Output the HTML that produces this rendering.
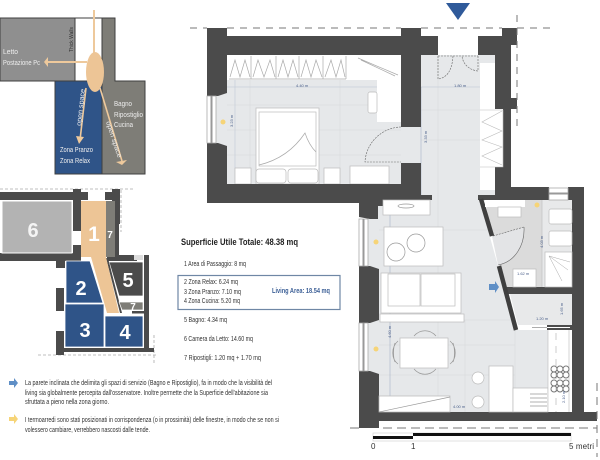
<!DOCTYPE html>
<html><head><meta charset="utf-8">
<style>
html,body{margin:0;padding:0;background:#fff;width:600px;height:460px;overflow:hidden}
svg{display:block}
text{font-family:"Liberation Sans",sans-serif}
</style></head><body>
<svg width="600" height="460" viewBox="0 0 600 460" xmlns="http://www.w3.org/2000/svg">
<!-- top-left diagram -->
<rect x="0" y="18" width="75" height="63" fill="#8f8f8f" stroke="#3f3f3f"/>
<rect x="75" y="18" width="27" height="63" fill="#fff" stroke="#3f3f3f"/>
<path d="M102 18H115V81H145V174H102Z" fill="#7e7d77" stroke="#3f3f3f"/>
<rect x="55" y="81" width="47" height="93" fill="#2f5488" stroke="#3f3f3f"/>
<path d="M94 10V55M87 62H46" stroke="#eec99c" stroke-width="2" fill="none"/>
<path d="M44 62L48 57V67Z" fill="#eec99c"/>
<ellipse cx="95" cy="72" rx="9" ry="20" fill="#edc596"/>
<path d="M86 88L80 140M100 88L122 161" stroke="#eec99c" stroke-width="1.600" fill="none"/>
<path d="M76 136L84 137L79 144Z" fill="#eec99c"/><path d="M116 162L127 160L122 165Z" fill="#eec99c"/>
<g fill="#eee" font-size="7">
<text x="3" y="54" textLength="15" lengthAdjust="spacingAndGlyphs">Letto</text>
<text x="3" y="65" textLength="37" lengthAdjust="spacingAndGlyphs">Postazione Pc</text>
<text x="114" y="106" textLength="18" lengthAdjust="spacingAndGlyphs">Bagno</text>
<text x="114" y="117" textLength="29" lengthAdjust="spacingAndGlyphs">Ripostiglio</text>
<text x="114" y="127" textLength="19" lengthAdjust="spacingAndGlyphs">Cucina</text>
<text x="60" y="152" textLength="33" lengthAdjust="spacingAndGlyphs">Zona Pranzo</text>
<text x="60" y="163" textLength="30" lengthAdjust="spacingAndGlyphs">Zona Relax</text>
<text transform="translate(81,126) rotate(-84)" textLength="37" lengthAdjust="spacingAndGlyphs">open space</text>
<text transform="translate(106,122) rotate(72)" textLength="38" lengthAdjust="spacingAndGlyphs">open space</text>
</g>
<text transform="translate(73,52) rotate(-90)" font-size="5.500" fill="#333" textLength="25" lengthAdjust="spacingAndGlyphs">Thick Walls</text>

<!-- key plan -->
<g fill="none" stroke="#aaa" stroke-dasharray="3 2" stroke-width=".8">
<path d="M0 189H135M121 190V232M38 355H157M154 335V365"/>
</g>
<g fill="#4b4b4b">
<rect x="0" y="192" width="88" height="8"/><rect x="73" y="189" width="8" height="42"/>
<rect x="73" y="245" width="8" height="16"/><rect x="0" y="253" width="81" height="8"/>
<rect x="56" y="261" width="9" height="7"/><rect x="105" y="192" width="14" height="8"/>
<rect x="112" y="189" width="8" height="35"/><rect x="115" y="200" width="4" height="60"/>
<rect x="107" y="255" width="30" height="6"/><rect x="144" y="255" width="5" height="95"/>
<rect x="56" y="288" width="8" height="23"/><rect x="56" y="331" width="8" height="24"/>
<rect x="56" y="348" width="98" height="4"/>
<rect x="132" y="311" width="12" height="2.500"/>
<path d="M109 262H143V296H119Z" stroke="#fff" stroke-width=".8"/>
<path d="M106 258L108 258L122 313H120Z"/>
</g>
<rect x="134" y="255" width="9" height="5" fill="#ddd"/>
<rect x="2" y="201" width="70" height="52" fill="#b3b3b3" stroke="#fff"/>
<path d="M81 201H106V257L119 313H107L91 257H81Z" fill="#edc596"/>
<rect x="106" y="201" width="9" height="56" fill="#7e7d77"/>
<path d="M119 302H143V310H122Z" fill="#7e7d77" stroke="#fff" stroke-width=".7"/>
<g fill="#2f5488" stroke="#fff" stroke-width=".8">
<path d="M66 261H90L103 303H66Z"/>
<rect x="65" y="304" width="39" height="43"/>
<rect x="105" y="316" width="38" height="31"/>
</g>
<g fill="#fff" font-weight="bold" text-anchor="middle">
<text x="33" y="237" font-size="20" fill="#f4f4f4">6</text>
<text x="94" y="241" font-size="21" fill="#fff">1</text>
<text x="110" y="238" font-size="10">7</text>
<text x="81" y="295" font-size="20">2</text>
<text x="85" y="337" font-size="20">3</text>
<text x="125" y="339" font-size="20">4</text>
<text x="128" y="287" font-size="20">5</text>
<text x="133" y="310" font-size="10">7</text>
</g>

<!-- text -->
<text x="181" y="245" font-size="9.500" font-weight="bold" fill="#222" textLength="117" lengthAdjust="spacingAndGlyphs">Superficie Utile Totale:   48.38 mq</text>
<g font-size="7" fill="#333">
<text x="184" y="266" textLength="62" lengthAdjust="spacingAndGlyphs">1  Area di Passaggio: 8 mq</text>
<text x="184" y="284" textLength="54" lengthAdjust="spacingAndGlyphs">2  Zona Relax: 6.24 mq</text>
<text x="184" y="294" textLength="57" lengthAdjust="spacingAndGlyphs">3  Zona Pranzo: 7.10 mq</text>
<text x="184" y="303" textLength="56" lengthAdjust="spacingAndGlyphs">4  Zona Cucina: 5.20 mq</text>
<text x="184" y="322" textLength="43" lengthAdjust="spacingAndGlyphs">5  Bagno: 4.34 mq</text>
<text x="184" y="341" textLength="69" lengthAdjust="spacingAndGlyphs">6  Camera da Letto: 14.60 mq</text>
<text x="184" y="360" textLength="77" lengthAdjust="spacingAndGlyphs">7  Ripostigli: 1.20 mq + 1.70 mq</text>
<text x="25" y="385" textLength="247" lengthAdjust="spacingAndGlyphs">La parete inclinata che delimita gli spazi di servizio (Bagno e Ripostiglio), fa in modo che la visibilità del</text>
<text x="25" y="395" textLength="243" lengthAdjust="spacingAndGlyphs">living sia globalmente percepita dall'osservatore. Inoltre permette che la Superficie dell'abitazione sia</text>
<text x="25" y="404" textLength="84" lengthAdjust="spacingAndGlyphs">sfruttata a pieno nella zona giorno.</text>
<text x="25" y="422" textLength="254" lengthAdjust="spacingAndGlyphs">I termoarredi sono stati posizionati in corrispondenza (o in prossimità) delle finestre, in modo che se non si</text>
<text x="25" y="432" textLength="125" lengthAdjust="spacingAndGlyphs">volessero cambiare, verrebbero nascosti dalle tende.</text>
</g>
<rect x="178" y="275.500" width="162" height="34" fill="none" stroke="#6f87a5" stroke-width="1.200"/>
<text x="272" y="293" font-size="7.500" font-weight="bold" fill="#3c5f96" textLength="58" lengthAdjust="spacingAndGlyphs">Living Area: 18.54 mq</text>
<path d="M9 381H14V378L18 383L14 388V385H9Z" fill="#5f8fc6"/>
<path d="M9 417H14V414L18 419L14 424V421H9Z" fill="#f6d477"/>

<!-- main plan: floors -->
<rect x="216" y="80" width="205" height="104" fill="#e6e8ea"/>
<rect x="401" y="127" width="21" height="36" fill="#e6e8ea"/>
<rect x="421" y="55" width="74" height="146" fill="#e6e8ea"/>
<path d="M368 198H479L516 330H548V412H368Z" fill="#e6e8ea"/>
<path d="M485 200H572V287H507L499 266L492 236Z" fill="#dbdbdb"/>
<rect x="542" y="200" width="30" height="87" fill="#e8e9ea"/>
<path d="M492 236L524 227C525 245 515 262 498 265Z" fill="#e3e4e6"/>
<path d="M510 294H572V325H518Z" fill="#e8e9ea"/>
<rect x="227" y="55" width="174" height="25" fill="#fff"/>
<rect x="438" y="36" width="40" height="19" fill="#fff"/>

<!-- floor grid -->
<g fill="none" stroke="#d6d8da" stroke-width=".5"><path d="M227 105H401M227 130H401M227 155H401M250 80V184M340 80V184M438 55V412M421 110H480M421 140H480M379 230H500M379 320H515M379 345H515M379 375H515M465 320V412M515 330V412"/></g>
<path d="M227 87H480M235 80V184M417 0" stroke="#b9c3d2" stroke-width=".5" fill="none"/>
<path d="M421 87V196M390 200V412" stroke="#9aa8c0" stroke-width=".5" fill="none"/>

<!-- bedroom furniture -->
<g fill="#fff" stroke="#bbb" stroke-width=".7">
<path d="M349 56H401V80H377V122H401V80H349Z" stroke="none"/>
<rect x="377" y="80" width="24" height="42" stroke="none"/>
<rect x="368" y="92" width="9" height="21" rx="2"/>
<rect x="256" y="108" width="63" height="76"/>
<rect x="259" y="112" width="57" height="54"/>
<rect x="235" y="168" width="16" height="16"/>
<rect x="324" y="168" width="16" height="16"/>
<rect x="256" y="169" width="30" height="14" rx="3"/>
<rect x="288" y="169" width="30" height="14" rx="3"/>
<rect x="350" y="166" width="39" height="18"/>
</g>
<g fill="none" stroke="#aaa" stroke-width=".7">
<path d="M251 56V79M276 56V79M299 56V79M323 56V79M346 56V79M229 79H346"/>
<path d="M230 77L235 60L240 77L245 60L250 77M253 77L258 60L264 77L270 60L275 77M278 77L283 60L288 77L293 60L298 77M301 77L306 60L311 77L316 60L322 77M325 77L331 60L336 77L341 60L345 77"/>
<path d="M259 165C280 160 295 148 305 133C308 142 312 148 316 152"/>
<path d="M358 58L398 75M361 60L395 76"/>
</g>

<!-- doors -->
<g fill="none" stroke="#666" stroke-width=".6">
<path d="M401 127A37 37 0 0 0 365 162H401" stroke-dasharray="2 1"/>
<path d="M438 56V79C446 78 452 72 453 56M478 56V71C470 70 463 65 462 56M438 56H478" stroke-dasharray="2 1"/>
<path d="M493 236L524 227" stroke-dasharray="2 1"/>
<path d="M524 227C525 245 515 262 498 265"/>
</g>

<!-- walls -->
<g fill="#4b4b4b">
<path d="M207 28H227V36H401V28H421V36H438V55H421V127H401V55H227V93L218 96H207Z"/>
<path d="M207 143H218L227 146V184H401V163H421V195H432V200H383V206H378V219H370L359 217V203H207Z"/>
<path d="M478 36H502V28H517V45H511V98H517V109H511V187H549V200H495V167H503V109H495V55H478Z"/>
<rect x="478" y="195" width="18" height="5"/>
<path d="M568 187H584V412H572V200H568Z"/>
<rect x="507" y="287" width="65" height="7"/>
<path d="M359 266H370L379 269V320L370 323H359Z"/>
<path d="M359 371H370L379 374V412H597V421H379V428H359Z"/>
<path d="M547 325H572V330H547Z"/>
</g>
<rect x="547" y="327" width="23" height="1" fill="#fff"/>
<path d="M532 327.500H547" stroke="#999" stroke-width=".8"/>
<path d="M481 199L492 236" stroke="#3f3f3f" stroke-width="4.500"/>
<path d="M499 266L516 330" stroke="#3f3f3f" stroke-width="4.500"/>

<!-- corridor wardrobe -->
<rect x="480" y="63" width="15" height="127" fill="#fff"/>
<rect x="480" y="110" width="23" height="57" fill="#fff"/>
<path d="M480 110H503V167H480M502 111L482 122L502 131L482 140L502 147L482 156L502 165" fill="none" stroke="#bbb" stroke-width=".6"/>

<!-- windows -->
<g fill="#fff" stroke="#aaa" stroke-width=".8">
<rect x="207" y="96" width="9" height="47"/><rect x="359" y="219" width="9" height="47"/>
<rect x="359" y="323" width="9" height="48"/><rect x="549" y="188" width="19" height="12"/>
</g>
<path d="M211.500 96V143M363.500 219V266M363.500 323V371M549 193.500H568" stroke="#999" stroke-width="2"/>

<!-- living furniture -->
<g fill="#fff" stroke="#bbb" stroke-width=".7">
<rect x="383" y="200" width="47" height="15"/>
<rect x="384" y="227" width="59" height="39"/>
<rect x="381" y="273" width="80" height="40"/>
<rect x="380" y="314" width="84" height="8"/>
<rect x="388" y="274" width="32" height="32"/><rect x="421" y="274" width="34" height="32"/>
<rect x="400" y="338" width="48" height="30"/>
<circle cx="478" cy="378" r="6"/><circle cx="478" cy="402" r="6"/>
<rect x="489" y="366" width="24" height="46"/>
<rect x="513" y="388" width="35" height="24"/>
<path d="M379 396H450V412H379Z"/>
</g>
<g fill="none" stroke="#999" stroke-width=".7">
<circle cx="396" cy="252" r="9"/><circle cx="416" cy="243" r="9"/>
<ellipse cx="406" cy="206" rx="8" ry="2"/>
<path d="M379 412L450 397"/>
<path d="M398 341C391 347 391 359 398 364M395 343C393 349 393 357 395 362M450 341C457 347 457 359 450 364M453 343C455 349 455 357 453 362M414 336C420 329 430 329 436 336M414 369C420 376 430 376 436 369"/>
<path d="M530 394H547M530 398H547M530 402H547M530 406H547"/>
</g>
<!-- bath -->
<g fill="#fff" stroke="#bbb" stroke-width=".7">
<rect x="485" y="200" width="40" height="7" stroke="none"/>
<rect x="498" y="207" width="23" height="10"/>
<rect x="549" y="209" width="23" height="15" rx="2"/>
<rect x="549" y="231" width="23" height="15" rx="2"/>
<rect x="545" y="252" width="27" height="35"/>
<rect x="513" y="269" width="23" height="18"/>
</g>
<path d="M549 256L570 262M549 256L568 270M549 256L562 281" stroke="#aaa" stroke-width=".5"/>
<path d="M542 200V287" stroke="#bbb" stroke-width=".6"/>
<!-- kitchen -->
<rect x="548" y="330" width="24" height="82" fill="#fff"/>
<path d="M548 330V412M569 330V412" stroke="#bbb" stroke-width=".6"/>
<path d="M556 333V412" stroke="#ccc" stroke-width="1" stroke-dasharray="7 6"/>
<g fill="none" stroke="#777" stroke-width="1">
<circle cx="554" cy="369" r="3"/><circle cx="560" cy="369" r="3"/><circle cx="566" cy="369" r="3"/><circle cx="554" cy="375" r="3"/><circle cx="560" cy="375" r="3"/><circle cx="566" cy="375" r="3"/>
<circle cx="554" cy="383" r="3"/><circle cx="560" cy="383" r="3"/><circle cx="566" cy="383" r="3"/><circle cx="554" cy="389" r="3"/><circle cx="560" cy="389" r="3"/><circle cx="566" cy="389" r="3"/>
</g>
<!-- dims -->
<g font-size="4" fill="#4a5f8a">
<text x="296" y="87">4.40 m</text><text x="454" y="87">1.80 m</text>
<text x="517" y="275">1.62 m</text><text x="536" y="320">1.20 m</text><text x="453" y="408">4.00 m</text>
<text transform="translate(233,127) rotate(-90)">3.23 m</text>
<text transform="translate(427,143) rotate(-90)">3.33 m</text>
<text transform="translate(543,248) rotate(-90)">4.03 m</text>
<text transform="translate(391,338) rotate(-90)">4.60 m</text>
<text transform="translate(563,315) rotate(-90)">1.65 m</text>
<text transform="translate(565,403) rotate(-90)">2.10 m</text>
</g>
<circle cx="223" cy="122" r="2.500" fill="#f6d477"/><circle cx="376" cy="242" r="2.500" fill="#f6d477"/><circle cx="376" cy="349" r="2.500" fill="#f6d477"/><circle cx="537" cy="205" r="2.500" fill="#f6d477"/>
<path d="M489 284H495V281L499 287L495 293V290H489Z" fill="#5f8fc6"/>

<!-- dashed lines -->
<g fill="none" stroke="#777" stroke-width="1">
<path d="M190 28H207M227 28H401M421 28H502M517 28H552" stroke-dasharray="7 6"/>
<path d="M517 15V127" stroke-dasharray="7 6"/>
<path d="M350 428H359M383 428H597" stroke-dasharray="9 5"/>
<path d="M597 383V457" stroke-dasharray="8 6"/>
</g>
<path d="M446 3H470L458 20Z" fill="#2f5a9a"/>
<!-- scale -->
<rect x="373" y="433" width="198" height="8" fill="none" stroke="#ccc" stroke-width=".6"/>
<rect x="373" y="436" width="40" height="3" fill="#111"/>
<rect x="413" y="433" width="158" height="3" fill="#111"/>
<g font-size="8" fill="#333">
<text x="371" y="449">0</text><text x="411" y="449">1</text><text x="569" y="449" textLength="25">5 metri</text>
</g>
</svg>
</body></html>
